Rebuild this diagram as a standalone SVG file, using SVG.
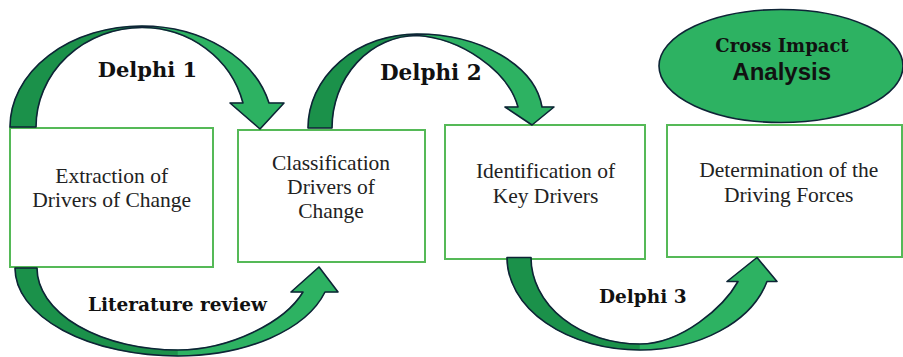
<svg xmlns="http://www.w3.org/2000/svg" width="903" height="357" viewBox="0 0 903 357">
<style>
.box{fill:#fff;stroke:#55B957;stroke-width:2}
.t{font-family:"Liberation Serif","Times New Roman",serif;font-size:21.5px;fill:#222;text-anchor:middle}
.lb{font-family:"DejaVu Serif",Georgia,serif;font-weight:bold;fill:#111;text-anchor:middle}
.dk{fill:#1B914A;stroke:#1B914A;stroke-width:0.6}
.lt{fill:#2DB262;stroke:#2DB262;stroke-width:0.6}
.ol{fill:none;stroke:#0E2436;stroke-width:1.6;stroke-linejoin:round}
</style>
<rect width="903" height="357" fill="#fff"/>
<g id="node-extraction">
<rect class="box" x="10" y="128" width="203" height="139"/>
<text class="t" x="111.7" y="182.7">Extraction of</text>
<text class="t" x="111.7" y="207">Drivers of Change</text>
</g>
<g id="node-classification">
<rect class="box" x="238" y="130" width="187" height="132"/>
<text class="t" x="331" y="170">Classification</text>
<text class="t" x="331" y="194">Drivers of</text>
<text class="t" x="331" y="218">Change</text>
</g>
<g id="node-identification">
<rect class="box" x="445" y="125" width="200" height="134"/>
<text class="t" x="545.5" y="178">Identification of</text>
<text class="t" x="545.5" y="202.7">Key Drivers</text>
</g>
<g id="node-determination">
<rect class="box" x="667" y="125" width="235" height="132"/>
<text class="t" x="788.7" y="177">Determination of the</text>
<text class="t" x="788.7" y="201.7">Driving Forces</text>
</g>
<g id="node-cross-impact">
<ellipse cx="781" cy="66" rx="122" ry="56.5" fill="#2DB262" stroke="#0E2436" stroke-width="1.6"/>
<text class="lb" x="782" y="51.7" font-size="18">Cross Impact</text>
<text x="781.7" y="80" font-family="'Liberation Sans',Arial,sans-serif" font-weight="bold" font-size="24" fill="#111" text-anchor="middle">Analysis</text>
</g>
<g id="connectors">
<g id="delphi-1">
<path class="dk" d="M10,127 A132,101 0 0 1 142,26 L142,27.5 A106,99.5 0 0 0 36,127 Z"/>
<path class="lt" d="M142,26 A131,101 0 0 1 269,103 L284,103 L260,129 L230,103 L243,103 A104,100 0 0 0 142,27.5 Z"/>
<path class="ol" d="M10,127 A132,101 0 0 1 142,26 A131,101 0 0 1 269,103 L284,103 L260,129 L230,103 L243,103 A104,100 0 0 0 142,27.5 A106,99.5 0 0 0 36,127 Z"/>
<text class="lb" x="147.5" y="76.7" font-size="21">Delphi 1</text>
</g>
<g id="delphi-2">
<path class="dk" d="M308,128 A109,94 0 0 1 417,34 L417,35.5 A85,92.5 0 0 0 332,128 Z"/>
<path class="lt" d="M417,34 C480,34 535,65 542,107 L554,107 L532,125 L505,107 L518,107 C508,70 460,38 417,35.5 Z"/>
<path class="ol" d="M308,128 A109,94 0 0 1 417,34 C480,34 535,65 542,107 L554,107 L532,125 L505,107 L518,107 C508,70 460,38 417,35.5 A85,92.5 0 0 0 332,128 Z"/>
<text class="lb" x="430.8" y="80" font-size="21.5">Delphi 2</text>
</g>
<g id="literature-review">
<path class="dk" d="M15,268 A163,88 0 0 0 178,356 L178,350 A141,82 0 0 1 37,268 Z"/>
<path class="lt" d="M178,356 A153,88 0 0 0 325,292 L338,292 L319,267 L291,292 L303,292 C285,322 230,350 178,350 Z"/>
<path class="ol" d="M15,268 A163,88 0 0 0 178,356 A153,88 0 0 0 325,292 L338,292 L319,267 L291,292 L303,292 C285,322 230,350 178,350 A141,82 0 0 1 37,268 Z"/>
<text class="lb" x="177.5" y="310.7" font-size="18.5" textLength="179" lengthAdjust="spacingAndGlyphs">Literature review</text>
</g>
<g id="delphi-3">
<path class="dk" d="M507,257.5 A133,92.5 0 0 0 640,350 L640,344 A109,86.5 0 0 1 531,257.5 Z"/>
<path class="lt" d="M640,350 A131.5,92.5 0 0 0 767,281.5 L777,281.5 L757,257.5 L727,281.5 L738,281.5 C724,306.5 682,344 640,344 Z"/>
<path class="ol" d="M507,257.5 A133,92.5 0 0 0 640,350 A131.5,92.5 0 0 0 767,281.5 L777,281.5 L757,257.5 L727,281.5 L738,281.5 C724,306.5 682,344 640,344 A109,86.5 0 0 1 531,257.5 Z"/>
<text class="lb" x="642.8" y="302.7" font-size="18.5">Delphi 3</text>
</g>
</g>
</svg>
